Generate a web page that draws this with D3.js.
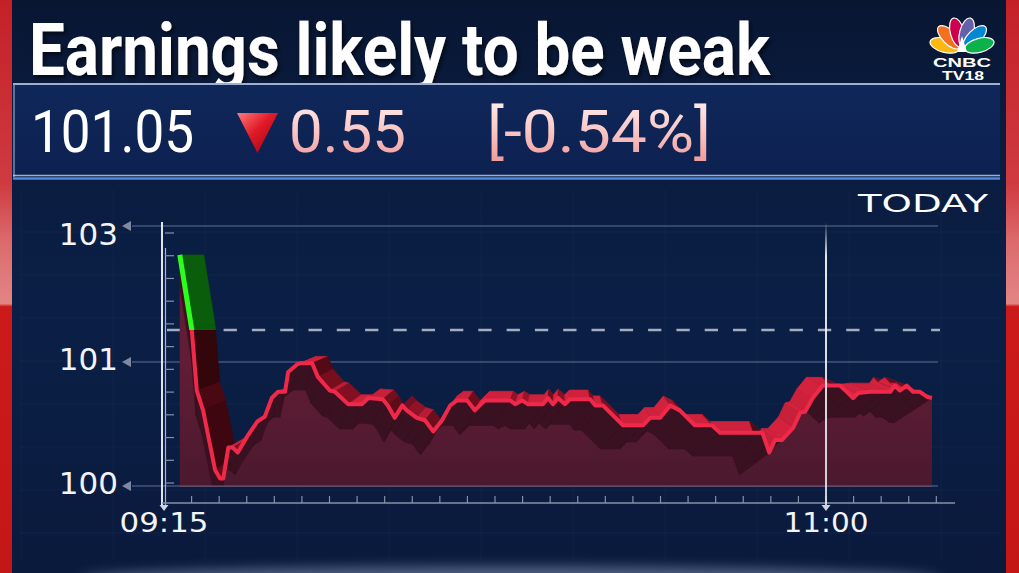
<!DOCTYPE html>
<html><head><meta charset="utf-8">
<script src="https://cdn.jsdelivr.net/npm/d3@7/dist/d3.min.js"></script>
<style>
html,body{margin:0;padding:0;background:#0a1b3f;overflow:hidden}
svg{display:block}
</style></head><body>
<svg id="chart" width="1019" height="573"></svg>
<script>
// ---------------- data ----------------
const titleText = "Earnings likely to be weak";
const lastPrice = "101.05";
const changeAbs = "0.55";
const changePct = "[-0.54%]";
const periodLabel = "TODAY";
const prevClose = 101.60;
const yTickValues = [100, 101, 103];
const yTickLabels = ["100", "101", "103"];
const xTickMinutes = [0, 105];          // minutes after 09:15
const xTickLabels = ["09:15", "11:00"];
const markerMinute = 105;               // 11:00 marker
// intraday series: minutes after 09:15 and price
const minutes = [2.5, 4.4, 5.2, 6.2, 8.1, 8.9, 9.4, 10.2, 10.9, 11.7, 13.2, 14.8, 16.0, 17.1, 18.1, 19.2, 19.7, 21.1, 21.6, 23.5,
  24.4, 26.3, 27.1, 29.2, 31.4, 32.4, 34.7, 35.5, 36.6, 37.8, 38.5, 40.1, 41.4, 42.7, 44.1, 45.4, 46.5, 48.1, 49.3, 50.9,
  54.9, 55.7, 56.8, 57.7, 60.1, 60.9, 61.7, 62.5, 63.6, 64.4, 67.6, 68.4, 69.6, 72.8, 76.0, 77.1, 78.7, 80.3, 81.8, 84.2,
  86.9, 88.2, 94.9, 96.0, 96.9, 98.0, 99.8, 100.9, 101.7, 102.9, 104.5, 107.2, 108.3, 109.3, 110.1, 112.0, 115.2, 115.9, 116.7, 117.8,
  118.8, 119.9, 121.0, 121.8];
const prices = [102.61, 101.61, 100.77, 100.61, 100.13, 100.06, 100.06, 100.31, 100.31, 100.27, 100.40, 100.52, 100.56, 100.71, 100.76, 100.76, 100.92, 100.98, 100.99, 100.99,
  100.88, 100.77, 100.76, 100.66, 100.66, 100.71, 100.70, 100.65, 100.55, 100.65, 100.61, 100.55, 100.53, 100.44, 100.53, 100.65, 100.69, 100.69, 100.61, 100.69,
  100.69, 100.66, 100.69, 100.66, 100.66, 100.71, 100.66, 100.71, 100.66, 100.70, 100.70, 100.65, 100.65, 100.49, 100.49, 100.55, 100.55, 100.65, 100.61, 100.49,
  100.49, 100.43, 100.43, 100.27, 100.37, 100.37, 100.47, 100.59, 100.60, 100.71, 100.81, 100.81, 100.76, 100.71, 100.75, 100.76, 100.76, 100.81, 100.77, 100.81,
  100.76, 100.76, 100.72, 100.71];
const feathers = ["#fcb711", "#f37021", "#cc004c", "#6460aa", "#0089d0", "#0db14b"];

// ---------------- setup ----------------
const W = 1019, H = 573;
const svg = d3.select("#chart");
const defs = svg.append("defs");

function linGrad(id, stops, x1=0, y1=0, x2=0, y2=1, units) {
  const g = defs.append("linearGradient").attr("id", id)
    .attr("x1", x1).attr("y1", y1).attr("x2", x2).attr("y2", y2);
  if (units) g.attr("gradientUnits", units);
  stops.forEach(s => g.append("stop").attr("offset", s[0]).attr("stop-color", s[1]).attr("stop-opacity", s[2] == null ? 1 : s[2]));
  return g;
}
linGrad("bg", [[0, "#081632"], [0.15, "#0a1a3b"], [0.55, "#0b1f46"], [1, "#0a1a3d"]]);
linGrad("box", [[0, "#10275a"], [1, "#0c2150"]]);
linGrad("redbar", [[0, "#c42028"], [0.32, "#cf3a40"], [0.42, "#dc6a6c"], [0.53, "#e38585"], [0.535, "#cc1a1a"], [1, "#c51616"]]);
linGrad("pink", [[0, "#fff0f0"], [0.5, "#f9c6c6"], [1, "#ee9595"]]);
linGrad("tri", [[0, "#ff7a7a"], [0.45, "#e01a28"], [1, "#9a0010"]], 0, 0, 1, 1);
linGrad("areaFill", [[0, "#611d35"], [1, "#4a192e"]], 0, 360, 0, 490, "userSpaceOnUse");
linGrad("marker", [[0, "#ffffff", 0], [0.12, "#ffffff", 0.9], [1, "#e8ecf4", 0.85]]);
const blur = defs.append("filter").attr("id", "blur").attr("x", "-50%").attr("y", "-50%").attr("width", "200%").attr("height", "200%");
blur.append("feGaussianBlur").attr("stdDeviation", 6);
const sh = defs.append("filter").attr("id", "shadow").attr("x", "-10%").attr("y", "-10%").attr("width", "120%").attr("height", "130%");
sh.append("feDropShadow").attr("dx", 2).attr("dy", 3).attr("stdDeviation", 2).attr("flood-color", "#000").attr("flood-opacity", 0.6);

// background
svg.append("rect").attr("width", W).attr("height", H).attr("fill", "url(#bg)");
svg.append("ellipse").attr("cx", 510).attr("cy", 578).attr("rx", 430).attr("ry", 12)
  .attr("fill", "#9fb2d6").attr("opacity", 0.45).attr("filter", "url(#blur)");

// faint background grid
const faint = svg.append("g").attr("stroke", "#ffffff").attr("stroke-opacity", 0.035).attr("stroke-width", 1);
d3.range(21, 1000, 92).forEach(gx => faint.append("line").attr("x1", gx).attr("x2", gx).attr("y1", 190).attr("y2", 560));
d3.range(232, 560, 43).forEach(gy => faint.append("line").attr("x1", 20).attr("x2", 1000).attr("y1", gy).attr("y2", gy));

// red side bars
svg.append("rect").attr("x", 0).attr("y", 0).attr("width", 12).attr("height", H).attr("fill", "url(#redbar)");
svg.append("rect").attr("x", 1006).attr("y", 0).attr("width", 13).attr("height", H).attr("fill", "url(#redbar)");

// title
svg.append("text").attr("x", 29).attr("y", 75).text(titleText)
  .attr("font-family", "Roboto").attr("font-weight", 700).attr("font-size", 72)
  .attr("fill", "#ffffff").attr("textLength", 741).attr("lengthAdjust", "spacingAndGlyphs")
  .attr("filter", "url(#shadow)");

// logo
const logo = svg.append("g").attr("transform", "translate(962,50)");
feathers.forEach((c, i) => {
  const ang = -75 + i * 30;
  logo.append("ellipse").attr("cx", 0).attr("cy", -18).attr("rx", 7).attr("ry", 15)
    .attr("transform", `rotate(${ang})`).attr("fill", c).attr("stroke", "#ffffff").attr("stroke-width", 1.2);
});
logo.append("path").attr("d", "M-5,2 L0,-14 L5,2 Z").attr("fill", "#ffffff");
svg.append("text").attr("x", 962).attr("y", 67).attr("text-anchor", "middle").text("CNBC")
  .attr("font-family", "Liberation Sans").attr("font-weight", 700).attr("font-size", 13)
  .attr("fill", "#fff").attr("textLength", 58).attr("lengthAdjust", "spacingAndGlyphs");
svg.append("text").attr("x", 963).attr("y", 80).attr("text-anchor", "middle").text("TV18")
  .attr("font-family", "Liberation Sans").attr("font-weight", 700).attr("font-size", 12.5)
  .attr("fill", "#fff").attr("textLength", 42).attr("lengthAdjust", "spacingAndGlyphs");

// price box
svg.append("rect").attr("x", 13).attr("y", 83).attr("width", 987).attr("height", 94).attr("fill", "url(#box)");
svg.append("line").attr("x1", 13).attr("x2", 1000).attr("y1", 84).attr("y2", 84).attr("stroke", "#b6c9ea").attr("stroke-width", 2).attr("stroke-opacity", 0.85);
svg.append("line").attr("x1", 14).attr("x2", 14).attr("y1", 84).attr("y2", 177).attr("stroke", "#8ea8d4").attr("stroke-width", 1.5).attr("stroke-opacity", 0.8);
svg.append("line").attr("x1", 13).attr("x2", 1000).attr("y1", 175.5).attr("y2", 175.5).attr("stroke", "#c4d3ee").attr("stroke-width", 1.5).attr("stroke-opacity", 0.8);
svg.append("line").attr("x1", 13).attr("x2", 1000).attr("y1", 178.5).attr("y2", 178.5).attr("stroke", "#4f86dc").attr("stroke-width", 2.5);

const pf = "Roboto";
svg.append("text").attr("x", 31).attr("y", 152).text(lastPrice)
  .attr("font-family", pf).attr("font-size", 59).attr("fill", "#ffffff")
  .attr("textLength", 163).attr("lengthAdjust", "spacingAndGlyphs");
svg.append("path").attr("d", "M237,113 L278,113 L257.5,153 Z").attr("fill", "url(#tri)");
svg.append("text").attr("x", 289).attr("y", 152).text(changeAbs)
  .attr("font-family", pf).attr("font-size", 59).attr("fill", "url(#pink)")
  .attr("textLength", 117).attr("lengthAdjust", "spacingAndGlyphs");
svg.append("text").attr("x", 487).attr("y", 152).text(changePct)
  .attr("font-family", pf).attr("font-size", 59).attr("fill", "url(#pink)")
  .attr("textLength", 224).attr("lengthAdjust", "spacingAndGlyphs");

svg.append("text").attr("x", 858).attr("y", 212).text(periodLabel)
  .attr("font-family", "DejaVu Sans").attr("font-size", 24).attr("fill", "#ffffff")
  .attr("textLength", 130).attr("lengthAdjust", "spacingAndGlyphs");

// ---------------- scales ----------------
const x = d3.scaleLinear().domain([0, 105]).range([164, 826]);
const y = d3.scaleLinear().domain([100, 101, 101.6, 103]).range([486, 362, 330, 226]);
const gridX0 = 132, gridX1 = 938;

// gridlines
const grid = svg.append("g");
yTickValues.forEach(v => {
  grid.append("line").attr("x1", gridX0).attr("x2", gridX1).attr("y1", y(v)).attr("y2", y(v))
    .attr("stroke", "#45557c").attr("stroke-width", 1.5);
  grid.append("path").attr("d", `M${gridX0 - 1},${y(v) - 5} L${gridX0 - 10},${y(v)} L${gridX0 - 1},${y(v) + 5} Z`)
    .attr("fill", "#7f89a2");
});
// previous close dashed
svg.append("line").attr("x1", 167).attr("x2", 940).attr("y1", y(prevClose)).attr("y2", y(prevClose))
  .attr("stroke", "#a4acbf").attr("stroke-width", 2.5).attr("stroke-dasharray", "13.3 15");

// ---------------- 3D chart ----------------
const pts = minutes.map((m, i) => [x(m), y(prices[i])]);
const VP = [561, 255], K = 0.063;        // depth vanishing point of the ribbon
const SP = [182, 890], K2 = 0.051;       // direction of the inner shadow band
const backPt = p => [p[0] + K * (VP[0] - p[0]), p[1] + K * (VP[1] - p[1])];
const shadowPt = p => [p[0] + K2 * (SP[0] - p[0]), p[1] + K2 * (SP[1] - p[1])];
const segs = d3.pairs(pts);
const quad = (a, b, c, d) => `M${a}L${b}L${c}L${d}Z`;
const shadeColor = d3.scaleLinear().domain([-0.5, 0.25, 0.9]).range(["#2a0509", "#7d0f20", "#d2223d"]).clamp(true);
function faceShade(p, q) {
  const dx = q[0] - p[0], dys = q[1] - p[1];
  const len = Math.hypot(dx, dys) || 1;
  const nx = dys / len, ny = dx / len;
  const L = nx * -0.5 + ny * 0.87;
  const cx = VP[0] - (p[0] + q[0]) / 2, cy = (p[1] + q[1]) / 2 - VP[1];
  return (nx * cx + ny * cy > 0) ? L : L * 0.4 - 0.1;
}
const yPC = y(prevClose);
defs.append("clipPath").attr("id", "clipUp").append("rect").attr("x", 0).attr("y", 0).attr("width", W).attr("height", yPC);
defs.append("clipPath").attr("id", "clipDown").append("rect").attr("x", 0).attr("y", yPC).attr("width", W).attr("height", H - yPC);
const area = d3.area().x(d => d[0]).y0(y(100)).y1(d => d[1]);
defs.append("clipPath").attr("id", "clipArea").append("path").attr("d", area(pts));

// ribbon (top face), red part
svg.append("g").attr("clip-path", "url(#clipDown)").selectAll("path").data(segs).join("path")
  .attr("d", s => quad(s[0], s[1], backPt(s[1]), backPt(s[0])))
  .attr("fill", s => shadeColor(faceShade(s[0], s[1])))
  .attr("stroke", s => shadeColor(faceShade(s[0], s[1]))).attr("stroke-width", 0.7);
// ribbon green part
svg.append("g").attr("clip-path", "url(#clipUp)").selectAll("path").data(segs).join("path")
  .attr("d", s => quad(s[0], s[1], backPt(s[1]), backPt(s[0])))
  .attr("fill", "#0a5d0b").attr("stroke", "#0a5d0b").attr("stroke-width", 0.7);

// front area
svg.append("path").attr("d", area(pts)).attr("fill", "url(#areaFill)");
// dark band inside the area
svg.append("g").attr("clip-path", "url(#clipArea)").selectAll("path").data(segs).join("path")
  .attr("d", s => quad(s[0], s[1], shadowPt(s[1]), shadowPt(s[0])))
  .attr("fill", "#3a1120").attr("stroke", "#3a1120").attr("stroke-width", 0.7);
// area base
svg.append("line").attr("x1", pts[0][0]).attr("x2", pts[pts.length - 1][0]).attr("y1", y(100)).attr("y2", y(100))
  .attr("stroke", "#9a5a72").attr("stroke-opacity", 0.55).attr("stroke-width", 1.5);

// price line
const line = d3.line();
svg.append("path").attr("d", line(pts)).attr("clip-path", "url(#clipDown)")
  .attr("fill", "none").attr("stroke", "#f0294a").attr("stroke-width", 4).attr("stroke-linejoin", "round");
svg.append("path").attr("d", line(pts)).attr("clip-path", "url(#clipUp)")
  .attr("fill", "none").attr("stroke", "#2cff1c").attr("stroke-width", 5).attr("stroke-linejoin", "round");

// ---------------- axes ----------------
const axisG = svg.append("g");
const axisBottom = 503;
axisG.append("line").attr("x1", 162).attr("x2", 162).attr("y1", y(103) - 4).attr("y2", 507).attr("stroke", "#dfe4ee").attr("stroke-width", 2);
axisG.append("line").attr("x1", 165.5).attr("x2", 165.5).attr("y1", 248).attr("y2", 505).attr("stroke", "#a9b2c6").attr("stroke-width", 1.2);
d3.range(12).map(d3.scaleLinear().domain([0, 11]).range([y(103) + 7, y(100) - 3])).forEach(ty => {
  axisG.append("line").attr("x1", 165).attr("x2", 174).attr("y1", ty).attr("y2", ty).attr("stroke", "#8790a8").attr("stroke-width", 1.2);
});
axisG.append("line").attr("x1", 162).attr("x2", 955).attr("y1", axisBottom).attr("y2", axisBottom).attr("stroke", "#8791a8").attr("stroke-width", 1.5);
d3.range(1, 29).map(k => x(k * 105 / 24)).forEach(tx => {
  axisG.append("line").attr("x1", tx).attr("x2", tx).attr("y1", axisBottom - 7).attr("y2", axisBottom).attr("stroke", "#8791a8").attr("stroke-width", 1.2);
});

// marker line at 11:00
svg.append("line").attr("x1", x(markerMinute)).attr("x2", x(markerMinute)).attr("y1", 222).attr("y2", 507)
  .attr("stroke", "#ffffff").attr("stroke-opacity", 0.35).attr("stroke-width", 4).attr("filter", "url(#blur)");
svg.append("rect").attr("x", x(markerMinute) - 1).attr("y", 222).attr("width", 2).attr("height", 285).attr("fill", "url(#marker)");

// x tick triangles + labels
xTickMinutes.forEach((m, i) => {
  const tx = x(m);
  svg.append("path").attr("d", `M${tx - 4.5},${axisBottom + 2} L${tx + 4.5},${axisBottom + 2} L${tx},${axisBottom + 8} Z`).attr("fill", "#cdd3e0");
  svg.append("text").attr("x", tx).attr("y", 532).attr("text-anchor", "middle").text(xTickLabels[i])
    .attr("font-family", "DejaVu Sans").attr("font-size", 26).attr("fill", "#f2f4f8")
    .attr("textLength", i === 0 ? 89 : 85).attr("lengthAdjust", "spacingAndGlyphs");
});
// y labels
yTickValues.forEach((v, i) => {
  svg.append("text").attr("x", 118).attr("y", y(v) + (v === d3.max(yTickValues) ? 19 : 8))
    .attr("text-anchor", "end").text(yTickLabels[i])
    .attr("font-family", "DejaVu Sans").attr("font-size", 31).attr("fill", "#f2f4f8");
});
</script>
</body></html>
